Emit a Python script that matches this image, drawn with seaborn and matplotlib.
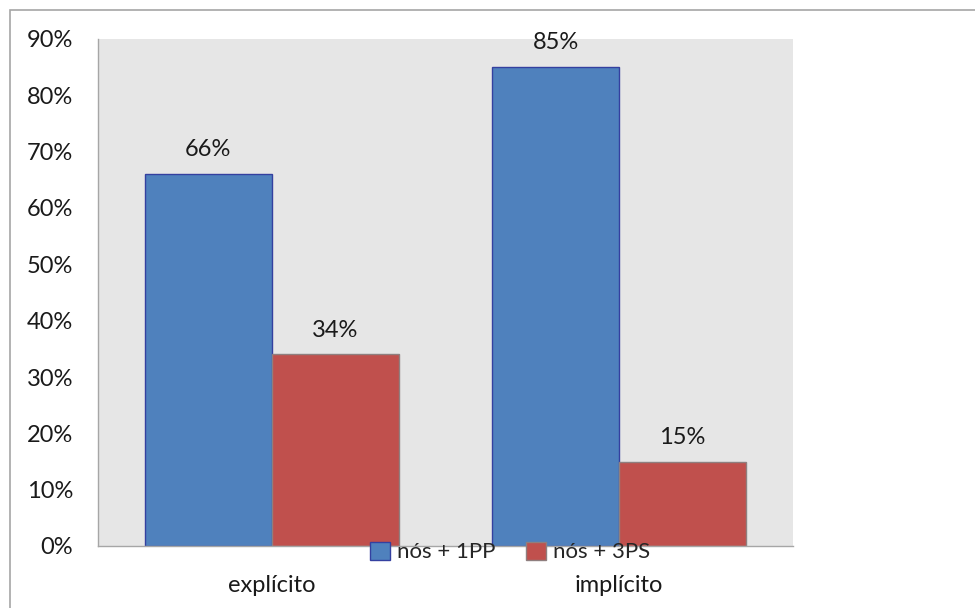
import matplotlib
matplotlib.use("Agg")
import matplotlib.pyplot as plt
import seaborn as sns
import pandas as pd
from matplotlib.patches import Rectangle, Patch

categories = ["explícito", "implícito"]
series_names = ["nós + 1PP", "nós + 3PS"]
values_1pp = [0.66, 0.85]
values_3ps = [0.34, 0.15]
value_labels_1pp = ["66%", "85%"]
value_labels_3ps = ["34%", "15%"]
y_ticks = [0.0, 0.1, 0.2, 0.3, 0.4, 0.5, 0.6, 0.7, 0.8, 0.9]
y_tick_labels = ["0%", "10%", "20%", "30%", "40%", "50%", "60%", "70%", "80%", "90%"]

df = pd.DataFrame({
    "categoria": categories * 2,
    "serie": [series_names[0]] * 2 + [series_names[1]] * 2,
    "valor": values_1pp + values_3ps,
})

sns.set_style("white")
plt.rcParams["font.family"] = ["Lato", "DejaVu Sans"]

FS = 17

fig = plt.figure(figsize=(9.75, 6.08), dpi=100)
ax = fig.add_axes([98 / 975, 1 - 546 / 608, (793 - 98) / 975, (546 - 39) / 608])

colors = ["#4f81bd", "#c0504d"]
edges = ["#3440a0", "#8f7f7f"]

sns.barplot(data=df, x="categoria", y="valor", hue="serie", palette=colors,
            width=0.73, ax=ax, legend=False, saturation=1)

for i, cont in enumerate(ax.containers):
    for bar in cont:
        bar.set_edgecolor(edges[i])
        bar.set_linewidth(1.0)
    labels = value_labels_1pp if i == 0 else value_labels_3ps
    ax.bar_label(cont, labels=labels, padding=10, fontsize=FS, color="#1a1a1a")

ax.set_facecolor("#e6e6e6")
ax.set_xlim(-0.5, 1.5)
ax.set_ylim(0, 0.9)
ax.set_yticks(y_ticks)
ax.set_yticklabels(y_tick_labels, fontsize=FS, color="#1a1a1a")
ax.tick_params(axis="y", length=0, pad=18)
ax.tick_params(axis="x", length=0, pad=21, labelsize=FS, labelcolor="#1a1a1a")
ax.set_xlabel("")
ax.set_ylabel("")
for s in ["top", "right"]:
    ax.spines[s].set_visible(False)
for s in ["left", "bottom"]:
    ax.spines[s].set_color("#a6a6a6")
    ax.spines[s].set_linewidth(1.0)

handles = [Patch(facecolor=colors[i], edgecolor=edges[i], label=series_names[i]) for i in range(2)]
fig.legend(handles=handles, loc="center", bbox_to_anchor=(510 / 975, 1 - 552 / 608),
           ncol=2, frameon=False, fontsize=16, handlelength=0.9, handleheight=0.9,
           handletextpad=0.3, columnspacing=1.4, borderpad=0)

fig.patches.append(Rectangle((10 / 975, -0.05), 1.2, 1 - 10 / 608 + 0.05,
                             transform=fig.transFigure, fill=False,
                             edgecolor="#a6a6a6", linewidth=1.2, zorder=10))

fig.savefig("out.png", dpi=100, facecolor="white")
